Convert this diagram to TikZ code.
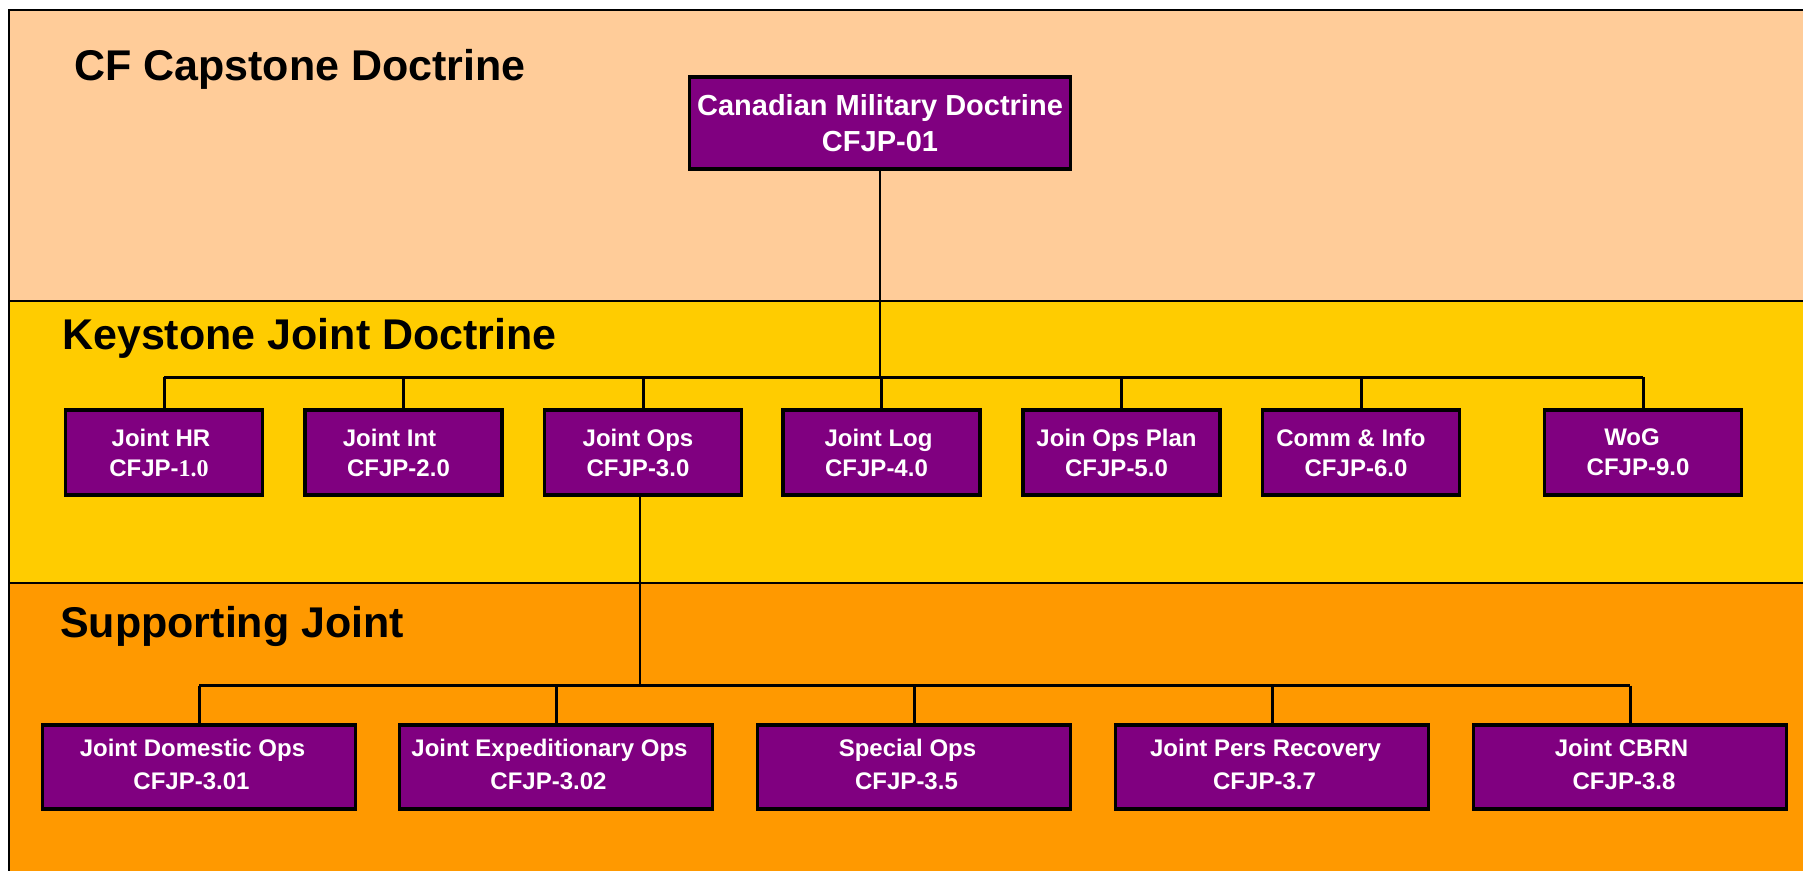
\documentclass[tikz,border=0pt]{standalone}
\usepackage{fontspec}
\setmainfont{Liberation Sans}
\newfontfamily\serifb{Liberation Serif}
\definecolor{peach}{HTML}{FFCC99}
\definecolor{keyyellow}{HTML}{FFCC00}
\definecolor{suporange}{HTML}{FF9900}
\definecolor{docpurple}{HTML}{800080}
\newcommand{\twolines}[4]{#1\hspace*{#3pt}\\#2\hspace*{#4pt}}
\newcommand{\lowstrut}{\rule[-5pt]{0pt}{5pt}}
\tikzset{
  docbox/.style={draw=black, line width=3.6pt, fill=docpurple, text=white, align=center, inner sep=0pt},
  topbox/.style={docbox, minimum width=381pt, minimum height=92pt, font=\bfseries\fontsize{29}{36.5}\selectfont},
  keybox/.style={docbox, minimum width=197pt, minimum height=85pt, font=\bfseries\fontsize{24}{30}\selectfont},
  supbox/.style={docbox, minimum width=313pt, minimum height=84pt, font=\bfseries\fontsize{24}{33}\selectfont},
  conn/.style={draw=black, line width=3pt},
  thinconn/.style={draw=black, line width=1.6pt},
  bandtitle/.style={anchor=base west, inner sep=0pt, font=\bfseries\fontsize{43}{50}\selectfont},
  divider/.style={draw=black, line width=2pt}
}
\begin{document}
\begin{tikzpicture}[x=1pt, y=-1pt]
\useasboundingbox (0,0) rectangle (1803,870);
\clip (0,0) rectangle (1803,870);
% bands
\fill[peach] (9,10) rectangle (1810,301);
\fill[keyyellow] (9,301) rectangle (1810,583);
\fill[suporange] (9,583) rectangle (1810,880);
\draw[divider] (9,301) -- (1810,301);
\draw[divider] (9,583) -- (1810,583);
\draw[line width=2.5pt] (1810,10) -- (9,10) -- (9,880);
% band titles
\node[bandtitle] (t1) at (74,80) {CF Capstone Doctrine};
\node[bandtitle] (t2) at (62,349) {Keystone Joint Doctrine};
\node[bandtitle] (t3) at (60,637) {Supporting Joint};
% top box
\node[topbox] (cmd) at (880,123) {Canadian Military Doctrine\\CFJP-01};
% keystone boxes
\node[keybox] (k1) at (164,452.5) {\twolines{Joint HR}{CFJP-{\serifb 1.0}}{6}{10}};
\node[keybox] (k2) at (403.5,452.5) {\twolines{Joint Int}{CFJP-2.0}{28}{10}};
\node[keybox] (k3) at (643,452.5) {\twolines{Joint Ops}{CFJP-3.0}{10}{10}};
\node[keybox] (k4) at (881.5,452.5) {\twolines{Joint Log}{CFJP-4.0}{6}{10}};
\node[keybox] (k5) at (1121.5,452.5) {\twolines{Join Ops Plan}{CFJP-5.0}{10}{10}};
\node[keybox] (k6) at (1361,452.5) {\twolines{Comm \& Info}{CFJP-6.0}{20}{10}};
\node[keybox] (k7) at (1643,452.5) {\twolines{WoG}{CFJP-9.0}{22}{10}};
% supporting boxes
\node[supbox] (s1) at (199,767) {\twolines{Joint Domestic Ops}{CFJP-3.01\lowstrut}{13}{15}};
\node[supbox] (s2) at (556,767) {\twolines{Joint Expeditionary Ops}{CFJP-3.02\lowstrut}{13}{15}};
\node[supbox] (s3) at (914,767) {\twolines{Special Ops}{CFJP-3.5\lowstrut}{13}{15}};
\node[supbox] (s4) at (1272,767) {\twolines{Joint Pers Recovery}{CFJP-3.7\lowstrut}{13}{15}};
\node[supbox] (s5) at (1630,767) {\twolines{Joint CBRN}{CFJP-3.8\lowstrut}{17}{12}};
% bus coordinates
\coordinate (bus1) at (0,377);
\coordinate (bus2) at (0,685.5);
% connectors: capstone to keystone
\draw[thinconn] (cmd.south) -- (cmd.south |- bus1);
\draw[conn] (k1.north |- bus1) -- (k7.north |- bus1);
\foreach \k in {k1,k2,k3,k4,k5,k6,k7} {
  \draw[conn] (\k.north |- bus1) -- (\k.north);
}
% keystone to supporting
\coordinate (opsdown) at ([xshift=-3pt]k3.south);
\draw[thinconn] (opsdown) -- (opsdown |- bus2);
\draw[conn] (s1.north |- bus2) -- (s5.north |- bus2);
\foreach \s in {s1,s2,s3,s4,s5} {
  \draw[conn] (\s.north |- bus2) -- (\s.north);
}
\end{tikzpicture}
\end{document}
